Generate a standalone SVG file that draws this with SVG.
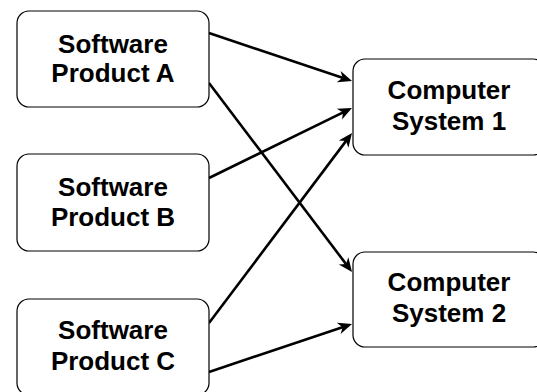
<svg xmlns="http://www.w3.org/2000/svg" width="537" height="392" viewBox="0 0 537 392">
  <style>
    .box { fill: #ffffff; stroke: #000000; stroke-width: 1.2; }
    .label { font-family: "Liberation Sans", Arial, sans-serif; font-size: 26px; font-weight: bold; fill: #000000; text-anchor: middle; }
    .link { fill: none; stroke: #000000; stroke-width: 2.6; marker-end: url(#arrow); }
  </style>
  <defs>
    <marker id="arrow" markerUnits="userSpaceOnUse" markerWidth="16" markerHeight="14" refX="7" refY="6" orient="auto" viewBox="0 0 16 14" overflow="visible">
      <path d="M0,0 L14,6 L0,12 L4,6 z" fill="#000000"/>
    </marker>
  </defs>
  <rect width="537" height="392" fill="#ffffff"/>

  <g id="connectors">
    <line class="link" x1="209" y1="33" x2="345.4" y2="78.8"/>
    <line class="link" x1="209" y1="83" x2="347.8" y2="266.4"/>
    <line class="link" x1="209" y1="178" x2="345.7" y2="111.1"/>
    <line class="link" x1="209" y1="323" x2="347.8" y2="138.6"/>
    <line class="link" x1="209" y1="372" x2="345.4" y2="326.2"/>
  </g>

  <g id="software-a">
    <rect class="box" x="17" y="11" width="192" height="96" rx="12"/>
    <text class="label" x="113" y="53">Software</text>
    <text class="label" x="113" y="82">Product A</text>
  </g>
  <g id="software-b">
    <rect class="box" x="17" y="154" width="192" height="97" rx="12"/>
    <text class="label" x="113" y="196">Software</text>
    <text class="label" x="113" y="226">Product B</text>
  </g>
  <g id="software-c">
    <rect class="box" x="17" y="299" width="192" height="96" rx="12"/>
    <text class="label" x="113" y="339">Software</text>
    <text class="label" x="113" y="370">Product C</text>
  </g>
  <g id="computer-1">
    <rect class="box" x="353" y="59" width="192" height="96" rx="12"/>
    <text class="label" x="449" y="99">Computer</text>
    <text class="label" x="449" y="130">System 1</text>
  </g>
  <g id="computer-2">
    <rect class="box" x="353" y="252" width="192" height="95" rx="12"/>
    <text class="label" x="449" y="291">Computer</text>
    <text class="label" x="449" y="322">System 2</text>
  </g>
</svg>
